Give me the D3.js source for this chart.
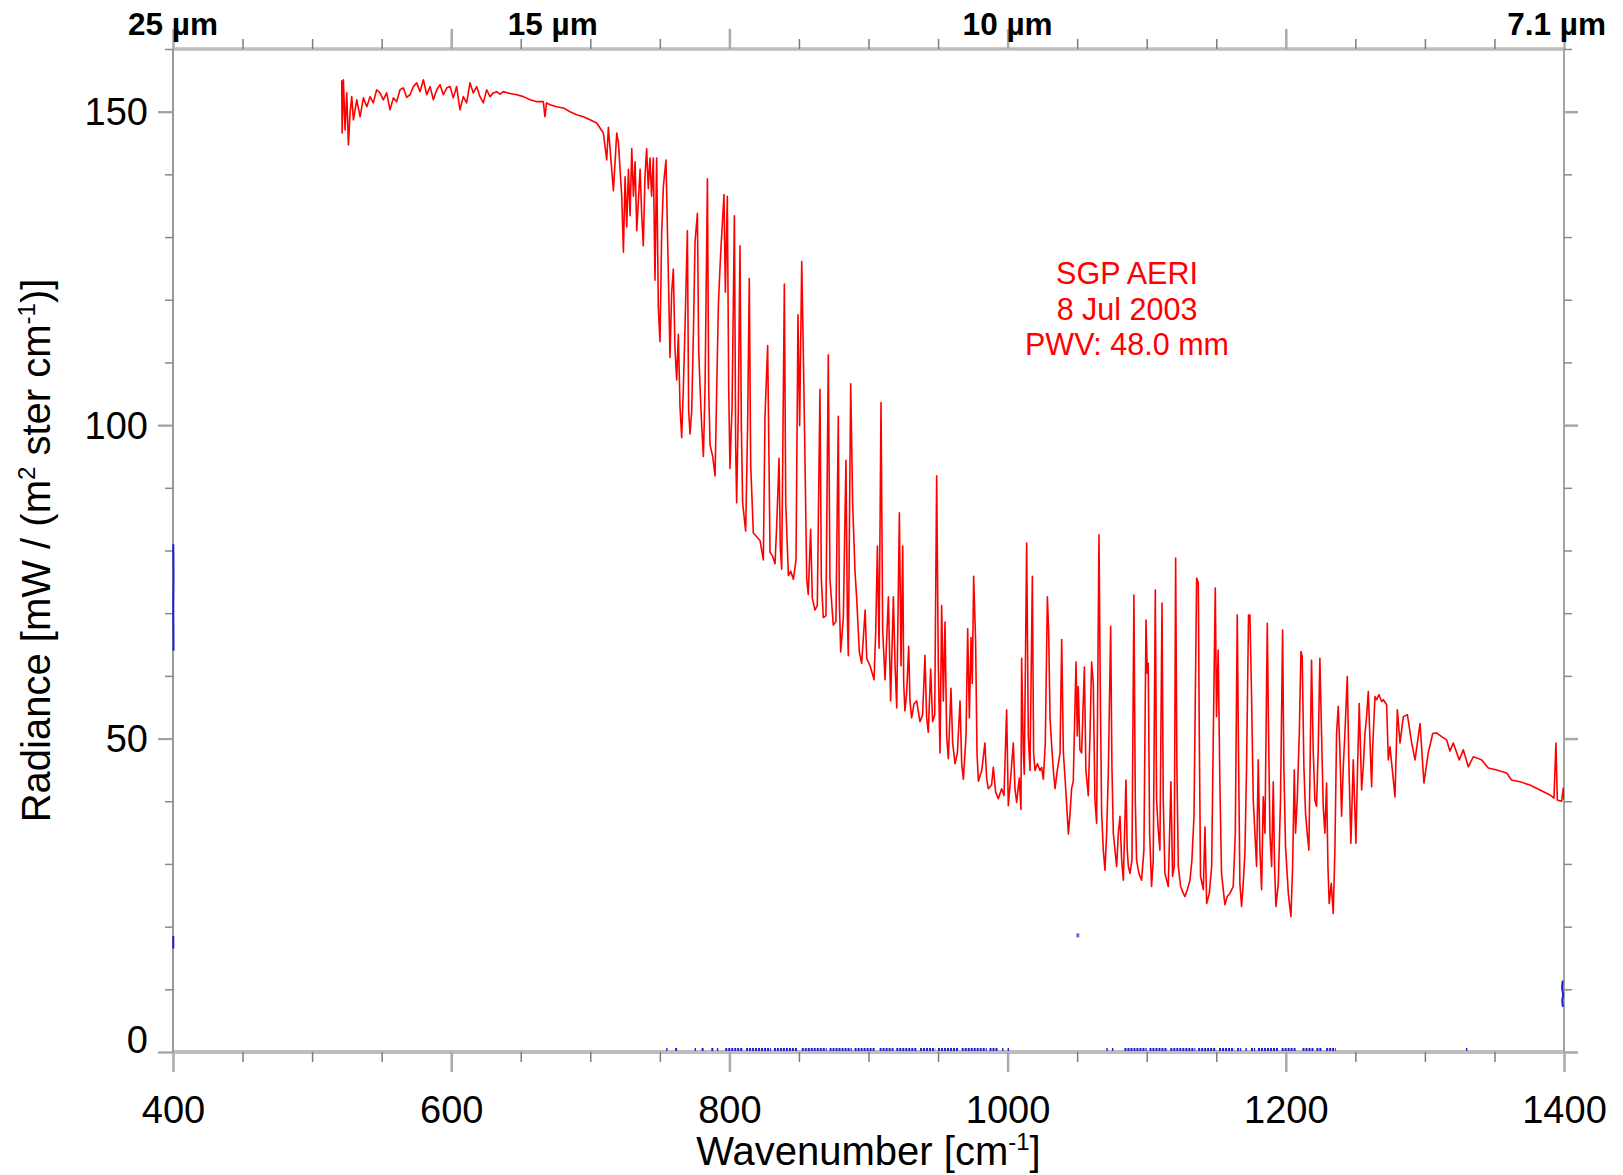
<!DOCTYPE html>
<html><head><meta charset="utf-8">
<script src="https://cdn.jsdelivr.net/npm/d3@7"></script>
<style>body{margin:0;background:#fff}svg{display:block}</style>
</head><body>
<svg id="c" width="1623" height="1175"></svg>
<script>
// ---------- DATA ----------
const xTickValues = [400, 600, 800, 1000, 1200, 1400];
const yTickValues = [0, 50, 100, 150];
const topWavelengths = [25, 14.86, 10, 7.17];        // µm, where the top labels sit
const topLabels = ["25 µm", "15 µm", "10 µm", "7.1 µm"];
const annotationLines = ["SGP AERI", "8 Jul 2003", "PWV: 48.0 mm"];

// Red radiance spectrum [wavenumber cm-1, radiance]
const farIR = [[521.3,155.0],[521.6,146.6],[522.5,155.1],[523.7,147.1],[524.9,153.0],[526.1,144.7],[527.3,149.8],[528.5,152.4],[529.7,148.7],[532.1,151.9],[534.5,149.2],[536.9,152.2],[539.3,150.8],[541.7,152.4],[544.0,151.4],[546.4,153.5],[548.8,153.0],[551.2,151.9],[553.6,153.0],[556.0,150.3],[558.4,152.2],[560.8,151.6],[563.2,153.5],[565.6,153.8],[568.0,152.3],[570.4,152.7],[572.8,154.0],[575.2,154.6],[577.6,153.2],[580.0,155.1],[582.4,152.7],[584.8,154.0],[587.2,151.9],[589.6,153.5],[592.0,154.3],[594.4,152.7],[596.8,153.8],[599.2,154.0],[601.5,152.2],[603.9,154.0],[606.3,150.3],[608.7,152.4],[611.1,151.4],[613.5,154.6],[615.9,153.0],[618.3,154.0],[620.7,152.4],[623.1,151.4],[625.5,153.5],[627.9,152.4],[630.3,153.0],[632.7,153.2],[635.1,152.8],[637.5,153.2],[642.3,152.9],[647.1,152.7],[651.9,152.4],[656.7,151.9],[661.5,151.6],[666.2,151.6],[667.4,149.2],[668.6,151.4],[671.0,151.1],[675.8,150.8],[680.6,150.6],[685.4,150.0],[690.2,149.5],[695.0,149.2],[699.8,148.7],[704.6,148.2],[707.0,147.4],[709.4,146.6],[711.8,142.3],[713.0,147.5]];

const co2Band = [[716.6,137.4],[719.0,146.6],[720.2,145.1],[722.6,136.5],[723.8,127.6],[725.0,139.6],[726.2,131.6],[727.4,140.8],[728.6,133.4],[729.8,144.1],[731.0,136.5],[732.2,142.0],[733.4,131.0],[735.8,140.8],[737.0,133.4],[738.1,128.6],[739.3,139.6],[740.5,144.1],[741.7,137.7],[742.9,142.6],[744.1,136.5],[745.3,142.6],[746.5,123.1],[747.7,142.6],[748.9,118.8],[750.1,113.3],[751.3,130.4],[752.5,138.0],[754.4,142.3],[756.1,124.3],[757.3,110.8],[758.5,121.2],[759.7,124.9],[760.9,112.1],[762.1,107.2],[763.3,114.5],[764.5,102.9],[765.7,98.0],[766.9,106.0],[768.1,115.7],[769.8,131.0],[770.7,102.3],[771.7,98.6],[772.9,102.3],[774.1,114.5],[775.3,129.2],[777.0,133.8],[777.9,112.1],[778.9,106.0],[780.1,99.9],[781.3,95.0],[782.5,106.0],[784.2,139.3],[785.1,106.0],[786.1,96.8],[788.0,95.0],[789.7,91.9],[790.9,106.0],[792.1,119.4],[793.7,127.3],[796.1,136.8],[797.1,121.2],[798.5,136.5],[799.5,106.0],[800.4,93.1],[801.9,102.9],[803.6,133.4],[804.5,96.8],[805.2,87.6],[806.4,102.3],[807.6,128.6],[808.6,99.9],[809.5,87.6],[811.7,83.1],[813.1,99.9],[814.3,123.4],[815.3,93.7],[817.2,82.8],[819.6,82.2],[822.0,81.6],[824.4,78.5],[825.6,101.4],[827.5,112.7],[828.5,93.7],[829.2,79.7],[831.1,79.1],[832.8,77.9],[834.0,84.0],[835.7,94.7],[836.6,80.3],[837.6,77.0],[839.5,122.5],[840.5,87.6],[842.4,76.0],[844.1,76.7],[846.0,75.4],[847.9,78.5],[849.3,117.6],[850.5,99.9],[852.0,126.1],[853.2,110.8],[854.4,93.7],[855.6,75.4],[856.7,73.0],[858.4,83.4],[859.6,72.4],[861.5,70.5],[863.2,71.2],[865.1,105.7],[866.1,75.4],[867.5,69.3],[869.4,69.6],[871.1,111.2],[872.3,75.4],[874.7,68.1],[876.6,68.7],[878.3,101.4],[879.0,72.4],[880.0,63.8],[881.9,69.3],[883.8,94.4],[884.8,69.3],[885.5,63.2],[887.2,106.6],[888.6,87.6],[890.3,76.7],[891.5,72.4],[893.4,63.8],[895.1,62.0],[897.6,70.5]];

const window1 = [[898.7,62.8],[901.1,61.6],[904.0,59.4],[905.2,67.2],[906.4,80.7],[907.6,64.4],[909.0,103.6],[910.2,67.2],[911.9,59.4],[914.3,72.6],[915.9,56.0],[917.9,72.6],[919.1,61.6],[920.3,54.9],[922.2,86.0],[923.4,61.6],[924.6,80.7],[925.3,58.8],[926.2,54.4],[927.4,57.2],[928.9,64.7],[929.8,56.0],[931.0,53.3],[932.7,55.5],[934.6,56.0],[937.0,52.7],[938.9,53.8],[940.6,63.3],[941.8,53.3],[943.0,51.0],[944.7,61.1],[946.1,52.7],[947.6,53.8],[949.0,91.9],[950.2,61.6],[951.4,47.7],[952.6,71.2],[953.8,56.0],[955.0,68.6],[956.2,50.4],[957.4,46.8],[959.3,58.0],[960.5,49.3],[962.2,46.0],[963.9,47.7],[965.8,56.0],[967.0,46.0],[968.2,43.5],[970.1,50.4],[971.3,67.5],[972.5,53.3],[973.7,66.1],[974.6,58.8],[975.6,75.9],[977.0,65.6],[978.0,47.7],[979.0,43.2],[981.4,44.9],[983.7,49.3],[984.9,43.7],[986.1,42.0],[988.5,42.6],[989.7,45.4],[991.4,41.5],[993.3,40.4],[995.7,42.0],[997.4,40.9],[999.3,54.6],[1000.5,39.3],[1002.2,43.7],[1004.1,49.3],[1005.3,42.0],[1006.5,39.8],[1008.4,43.7],[1009.6,38.7],[1010.1,62.8],[1011.3,47.7],[1012.0,44.3],[1013.7,81.2],[1014.9,50.4],[1016.1,44.9],[1017.8,75.9],[1018.7,47.7],[1019.7,44.9],[1021.4,46.0],[1023.3,44.9],[1024.5,45.4],[1025.7,43.5],[1027.1,49.3],[1028.6,72.6],[1029.5,67.2],[1030.5,53.3],[1031.7,48.8],[1032.9,44.9],[1034.1,42.0],[1035.7,44.9],[1037.7,47.7],[1038.9,65.8],[1040.1,47.7],[1041.3,43.7],[1042.5,39.3],[1043.7,34.8],[1044.9,38.1],[1046.0,42.0],[1047.2,43.2],[1049.2,62.2],[1050.1,50.4],[1050.8,58.3],[1052.0,48.2],[1053.2,47.7],[1055.2,61.4],[1056.3,44.9],[1058.0,40.9],[1059.2,50.4],[1060.4,62.2]];

const window2 = [[1061.6,58.8],[1062.8,40.2],[1064.0,36.5],[1065.7,82.5],[1066.6,58.3],[1067.6,38.1],[1068.8,32.2],[1070.0,29.0],[1071.2,34.9],[1072.4,44.5],[1074.1,67.9],[1075.0,45.5],[1076.0,34.9],[1077.2,32.2],[1078.4,29.6],[1079.6,34.9],[1080.8,37.6],[1082.0,30.6],[1083.2,27.4],[1085.1,43.4],[1086.0,32.2],[1086.8,29.6],[1088.0,28.5],[1089.4,30.6],[1090.8,72.9],[1091.8,40.2],[1092.7,30.6],[1094.4,28.5],[1096.3,27.4],[1098.0,32.2],[1099.5,68.9],[1100.4,60.4],[1101.1,62.0],[1102.1,34.9],[1103.5,26.4],[1104.7,30.6],[1106.2,73.7],[1107.1,40.2],[1108.3,35.4],[1109.5,32.2],[1111.0,71.6],[1111.9,40.2],[1113.1,28.5],[1115.5,26.4],[1117.4,43.1],[1118.6,28.0],[1119.8,29.6],[1120.8,78.8],[1121.7,45.5],[1122.7,29.6],[1124.4,26.4],[1126.3,25.3],[1127.5,24.8],[1129.2,25.9],[1131.1,27.4],[1132.5,30.6],[1134.0,37.6],[1135.9,75.6],[1137.1,74.8],[1137.8,50.8],[1138.7,28.0],[1140.7,25.9],[1141.9,35.9],[1143.1,23.7],[1145.0,25.3],[1146.7,29.6],[1147.9,50.8],[1149.3,74.0],[1150.2,53.5],[1151.4,64.1],[1152.6,42.9],[1153.8,28.5],[1156.2,23.5],[1157.9,24.8],[1159.8,25.3],[1162.2,26.4],[1163.7,34.9],[1165.1,69.7],[1166.1,45.5],[1167.0,26.9],[1168.2,23.2],[1169.4,26.9],[1170.6,31.7],[1171.8,45.5],[1173.2,69.7],[1174.2,69.7],[1175.4,56.7],[1176.6,40.2],[1177.8,34.9],[1179.0,29.6],[1180.2,46.6],[1181.4,32.2],[1182.6,25.9],[1183.8,40.7],[1185.0,34.9],[1186.7,68.4],[1187.6,50.8],[1188.6,34.9],[1189.8,29.6],[1191.0,43.1],[1191.9,29.6],[1192.9,23.2],[1194.6,26.9],[1196.2,40.2],[1197.7,67.3],[1198.6,45.5],[1199.8,32.8],[1201.8,25.3],[1203.7,21.6],[1204.9,29.6],[1206.1,45.0],[1207.0,34.9],[1208.2,40.2],[1209.7,50.8],[1210.9,63.9],[1211.8,63.1],[1213.0,45.5],[1214.2,38.1],[1215.4,34.9],[1216.6,32.2],[1217.6,48.2],[1218.5,62.5],[1219.7,48.2],[1220.9,40.2],[1222.1,39.2],[1223.3,48.2],[1224.5,62.8],[1225.7,50.8],[1226.9,39.2],[1228.1,34.9],[1229.3,42.9],[1230.3,29.6],[1231.2,23.7],[1232.7,26.9],[1234.1,22.1],[1235.3,32.2],[1236.5,50.8],[1237.7,55.1],[1238.9,48.2],[1240.1,37.6],[1241.3,45.5],[1242.5,50.8],[1244.2,59.9],[1245.4,45.5],[1246.8,33.3],[1248.5,46.6],[1250.4,33.3],[1251.6,45.5],[1252.8,55.6],[1254.5,41.8],[1255.7,45.5],[1256.9,50.8],[1258.1,53.5],[1259.3,57.5]];

const h2oBand = [[1261.7,42.3],[1262.4,48.2],[1264.1,56.7],[1265.3,56.2],[1267.0,57.0],[1268.9,55.9],[1270.1,56.2],[1272.5,55.4],[1273.7,46.6],[1274.9,48.7],[1277.3,43.4],[1278.5,40.7],[1280.2,54.6],[1282.1,49.3],[1284.5,53.5],[1287.4,53.8],[1290.5,49.3],[1292.9,46.6],[1296.5,52.4],[1299.3,42.9],[1302.4,47.7],[1305.6,50.8],[1308.4,50.9],[1312.0,50.3],[1315.6,49.8],[1318.0,48.0],[1320.4,49.3],[1324.7,46.6],[1327.6,48.2],[1331.2,45.5],[1334.8,47.1],[1340.8,46.6],[1345.6,45.3],[1351.6,45.0],[1358.8,44.5],[1362.3,43.4],[1368.3,43.1],[1375.5,42.6],[1382.7,41.8],[1389.9,41.0],[1392.8,40.5],[1394.2,49.3],[1395.2,40.2],[1398.3,40.0],[1399.5,42.1],[1400.0,40.2]];

// Blue series: fragments visible inside the plot
const blueLowRuns = [[754.5,755.5],[761,762.5],[775,776],[780,782],[787,789],[791,792],[797,810],[812,830],[832,849],[852,870],[872,888],[890,905],[908,918],[920,935],[937,948],[950,965],[967,985],[987,993],[996,997],[1000,1001],[1071,1072],[1075,1076],[1084,1100],[1102,1115],[1117,1135],[1137,1150],[1152,1163],[1165,1168],[1171,1172],[1175,1178],[1180,1195],[1197,1207],[1212,1220],[1222,1226],[1229,1236],[1329.5,1330.5]];
const blueLowLevel = 0.4;
const blueLeftEdge = [[400.2,81.0],[400.4,76.0],[400.2,71.0],[400.4,64.0]];
const blueLeftStub = [[400.2,18.5],[400.2,16.5]];
const blueRightEdge = [[1399.1,11.4],[1398.6,10.2],[1399.4,9.2],[1398.7,8.2],[1399.2,7.2]];
const blueIsolated = [[1050.5,18.6]];

// ---------- CHART ----------
const FONT = '"Liberation Sans", Arial, Helvetica, sans-serif';
const svg = d3.select('#c');
const x = d3.scaleLinear().domain([400, 1400]).range([173, 1564]);
const y = d3.scaleLinear().domain([0, 160]).range([1052, 49]);

const xMinor = d3.range(400, 1401, 50).filter(v => !xTickValues.includes(v));
const yMinor = d3.range(0, 161, 10).filter(v => !yTickValues.includes(v));

function clean(g, color, width) {
  g.select('.domain').remove();
  g.selectAll('.tick line').attr('stroke', color).attr('stroke-width', width);
}

// frame
const frame = svg.append('g');
frame.append('line').attr('x1', x(400)).attr('x2', x(1400)).attr('y1', y(0)).attr('y2', y(0))
  .attr('stroke', '#bdbdbd').attr('stroke-width', 4);
frame.append('line').attr('x1', x(400)).attr('x2', x(1400)).attr('y1', y(160)).attr('y2', y(160))
  .attr('stroke', '#bdbdbd').attr('stroke-width', 3.5);
frame.append('line').attr('x1', x(400)).attr('x2', x(400)).attr('y1', y(160)).attr('y2', y(0))
  .attr('stroke', '#8e8e8e').attr('stroke-width', 1.8);
frame.append('line').attr('x1', x(1400)).attr('x2', x(1400)).attr('y1', y(160)).attr('y2', y(0))
  .attr('stroke', '#a4a4a4').attr('stroke-width', 2);

// bottom axis
svg.append('g').attr('transform', `translate(0,${y(0)})`)
  .call(d3.axisBottom(x).tickValues(xMinor).tickSize(10).tickFormat(''))
  .call(g => clean(g, '#7c7c7c', 1.5));
svg.append('g').attr('transform', `translate(0,${y(0)})`)
  .call(d3.axisBottom(x).tickValues(xTickValues).tickSize(20).tickPadding(24).tickFormat(d3.format('d')))
  .call(g => {
    clean(g, '#ababab', 2.5);
    g.selectAll('text').attr('font-size', 38).attr('font-family', FONT).attr('fill', '#000');
  });

// top axis
svg.append('g').attr('transform', `translate(0,${y(160)})`)
  .call(d3.axisTop(x).tickValues(xMinor).tickSize(10).tickFormat(''))
  .call(g => clean(g, '#7c7c7c', 1.5));
svg.append('g').attr('transform', `translate(0,${y(160)})`)
  .call(d3.axisTop(x).tickValues(xTickValues).tickSize(20).tickFormat(''))
  .call(g => clean(g, '#ababab', 2.5));

// left axis
svg.append('g').attr('transform', `translate(${x(400)},0)`)
  .call(d3.axisLeft(y).tickValues(yMinor).tickSize(8).tickFormat(''))
  .call(g => clean(g, '#8a8a8a', 1.5));
svg.append('g').attr('transform', `translate(${x(400)},0)`)
  .call(d3.axisLeft(y).tickValues(yTickValues).tickSize(15).tickPadding(10).tickFormat(d3.format('d')))
  .call(g => {
    clean(g, '#a0a0a0', 2.2);
    g.selectAll('text').attr('font-size', 38).attr('font-family', FONT).attr('fill', '#000')
      .attr('dy', d => d === 0 ? '0em' : '0.34em');
  });

// right axis
svg.append('g').attr('transform', `translate(${x(1400)},0)`)
  .call(d3.axisRight(y).tickValues(yMinor).tickSize(8).tickFormat(''))
  .call(g => clean(g, '#8a8a8a', 1.5));
svg.append('g').attr('transform', `translate(${x(1400)},0)`)
  .call(d3.axisRight(y).tickValues(yTickValues).tickSize(14).tickFormat(''))
  .call(g => clean(g, '#a8a8a8', 2.5));

// top wavelength labels
svg.append('g').selectAll('text').data(topWavelengths).join('text')
  .attr('x', d => x(1e4 / d)).attr('y', 35)
  .attr('text-anchor', 'middle').attr('font-family', FONT).attr('font-weight', 'bold')
  .attr('font-size', 31.5).attr('fill', '#000')
  .text((d, i) => topLabels[i]);

// axis titles
const xt = svg.append('text').attr('x', (x(400) + x(1400)) / 2).attr('y', 1165)
  .attr('text-anchor', 'middle').attr('font-family', FONT).attr('font-size', 40).attr('fill', '#000');
xt.append('tspan').text('Wavenumber [cm');
xt.append('tspan').attr('dy', -15).attr('font-size', 24).text('-1');
xt.append('tspan').attr('dy', 15).text(']');

const yt = svg.append('text').attr('transform', `translate(50,${(y(0) + y(160)) / 2}) rotate(-90)`)
  .attr('text-anchor', 'middle').attr('font-family', FONT).attr('font-size', 40).attr('fill', '#000');
yt.append('tspan').text('Radiance [mW / (m');
yt.append('tspan').attr('dy', -15).attr('font-size', 24).text('2');
yt.append('tspan').attr('dy', 15).text(' ster cm');
yt.append('tspan').attr('dy', -15).attr('font-size', 24).text('-1');
yt.append('tspan').attr('dy', 15).text(')]');

// clip
svg.append('clipPath').attr('id', 'plot').append('rect')
  .attr('x', x(400)).attr('y', y(160)).attr('width', x(1400) - x(400)).attr('height', y(0) - y(160));

// red spectrum
const spectrum = [].concat(farIR, co2Band, window1, window2, h2oBand);
const line = d3.line().x(d => x(d[0])).y(d => y(d[1]));
svg.append('path').datum(spectrum).attr('d', line)
  .attr('fill', 'none').attr('stroke', '#ff0000').attr('stroke-width', 1.6)
  .attr('stroke-linejoin', 'round').attr('clip-path', 'url(#plot)');

// blue series fragments
const blue = '#1f1fd0';
svg.append('g').selectAll('line').data(blueLowRuns).join('line')
  .attr('x1', d => x(d[0])).attr('x2', d => x(d[1]))
  .attr('y1', y(blueLowLevel)).attr('y2', y(blueLowLevel))
  .attr('stroke', blue).attr('stroke-width', 3).attr('stroke-dasharray', '2 1');
[blueLeftEdge, blueLeftStub, blueRightEdge].forEach(seg => {
  svg.append('path').datum(seg).attr('d', line).attr('fill', 'none')
    .attr('stroke', blue).attr('stroke-width', 2);
});
svg.append('g').selectAll('rect').data(blueIsolated).join('rect')
  .attr('x', d => x(d[0]) - 1.5).attr('y', d => y(d[1]) - 2).attr('width', 3).attr('height', 4)
  .attr('fill', '#6a6ad8');

// annotation
svg.append('g').selectAll('text').data(annotationLines).join('text')
  .attr('x', 1127).attr('y', (d, i) => 284 + i * 35.5)
  .attr('text-anchor', 'middle').attr('font-family', FONT).attr('font-size', 30.5)
  .attr('fill', '#ff0000').text(d => d);
</script>
</body></html>
